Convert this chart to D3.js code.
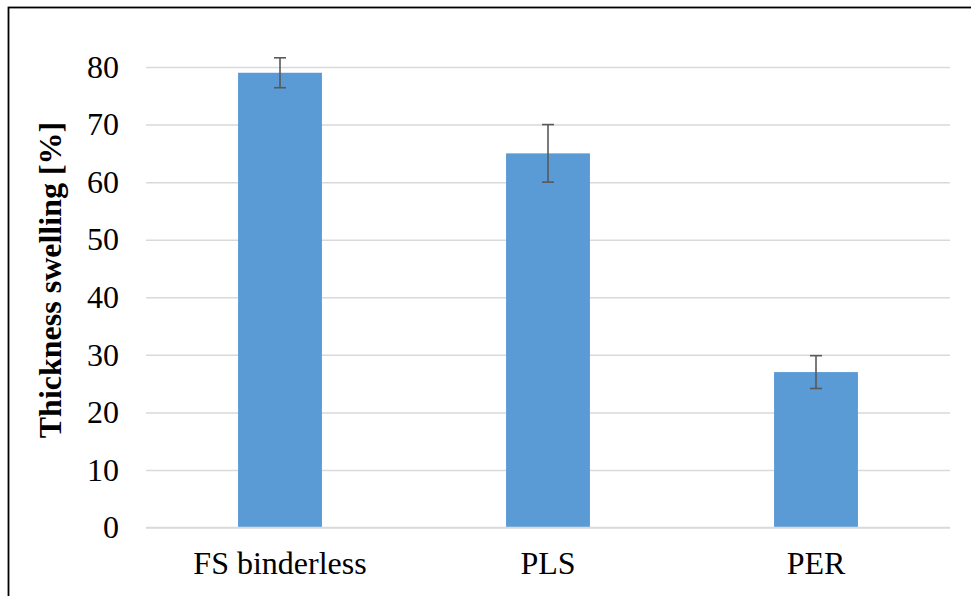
<!DOCTYPE html>
<html>
<head>
<meta charset="utf-8">
<script src="https://cdn.jsdelivr.net/npm/d3@7"></script>
<style>
  body { margin: 0; background: #fff; }
  svg text { font-family: "Liberation Serif", "Times New Roman", Times, "DejaVu Serif", serif; fill: #000; }
</style>
</head>
<body>
<div id="chart"></div>
<script>
// data
const categories = ['FS binderless', 'PLS', 'PER'];
const swelling = [79, 65, 27];
const errors = [2.6, 5, 2.85];
const yTicks = [0, 10, 20, 30, 40, 50, 60, 70, 80];

const width = 971, height = 596;
const plot = {left: 146, right: 950, top: 67, bottom: 527.5};
const fontSize = 32;

const svg = d3.select('#chart').append('svg')
    .attr('width', width)
    .attr('height', height);

// frame (runs off the right and bottom edge in the reference)
svg.append('rect')
    .attr('x', 8.5)
    .attr('y', 7.5)
    .attr('width', 1000)
    .attr('height', 700)
    .attr('fill', 'none')
    .attr('stroke', '#000')
    .attr('stroke-width', 1.8);

const xScale = d3.scaleBand()
    .domain(categories)
    .range([plot.left, plot.right]);

const yScale = d3.scaleLinear()
    .domain([0, 80])
    .range([plot.bottom, plot.top]);

const barWidth = xScale.bandwidth() * 0.313;

// gridlines + labels via axis
const yAxis = d3.axisLeft(yScale)
    .tickValues(yTicks)
    .tickSize(-(plot.right - plot.left))
    .tickPadding(27);

const yAxisG = svg.append('g')
    .attr('transform', `translate(${plot.left},0)`)
    .call(yAxis)
    .attr('font-family', null);
yAxisG.select('.domain').remove();
yAxisG.selectAll('.tick line')
    .attr('stroke', '#d9d9d9')
    .attr('stroke-width', 1.5);
yAxisG.selectAll('.tick text')
    .attr('font-size', fontSize)
    .attr('fill', '#000');

const xAxis = d3.axisBottom(xScale)
    .tickSize(0)
    .tickPadding(24);

const xAxisG = svg.append('g')
    .attr('transform', `translate(0,${plot.bottom})`)
    .call(xAxis)
    .attr('font-family', null);
xAxisG.select('.domain').remove();
xAxisG.selectAll('.tick text')
    .attr('font-size', fontSize)
    .attr('fill', '#000');

const rows = categories.map((c, i) => ({cat: c, value: swelling[i], err: errors[i]}));

svg.append('g').selectAll('.bar')
    .data(rows)
    .join('rect')
    .attr('class', 'bar')
    .attr('fill', '#5b9bd5')
    .attr('x', d => xScale(d.cat) + xScale.bandwidth() / 2 - barWidth / 2)
    .attr('width', barWidth)
    .attr('y', d => yScale(d.value))
    .attr('height', d => yScale(0) - yScale(d.value));

// baseline redrawn over bars
svg.append('line')
    .attr('x1', plot.left)
    .attr('x2', plot.right)
    .attr('y1', yScale(0))
    .attr('y2', yScale(0))
    .attr('stroke', '#d9d9d9')
    .attr('stroke-width', 1.5);

const errG = svg.append('g')
    .attr('stroke', '#595959')
    .attr('stroke-width', 1.6);

rows.forEach(d => {
  const cx = xScale(d.cat) + xScale.bandwidth() / 2;
  const y1 = yScale(d.value + d.err), y2 = yScale(d.value - d.err);
  errG.append('line').attr('x1', cx).attr('x2', cx).attr('y1', y1).attr('y2', y2);
  errG.append('line').attr('x1', cx - 6).attr('x2', cx + 6).attr('y1', y1).attr('y2', y1);
  errG.append('line').attr('x1', cx - 6).attr('x2', cx + 6).attr('y1', y2).attr('y2', y2);
});

svg.append('text')
    .attr('transform', `translate(61,${(123 + 437) / 2}) rotate(-90)`)
    .attr('text-anchor', 'middle')
    .attr('font-size', fontSize)
    .attr('font-weight', 'bold')
    .text('Thickness swelling [%]');
</script>
</body>
</html>
